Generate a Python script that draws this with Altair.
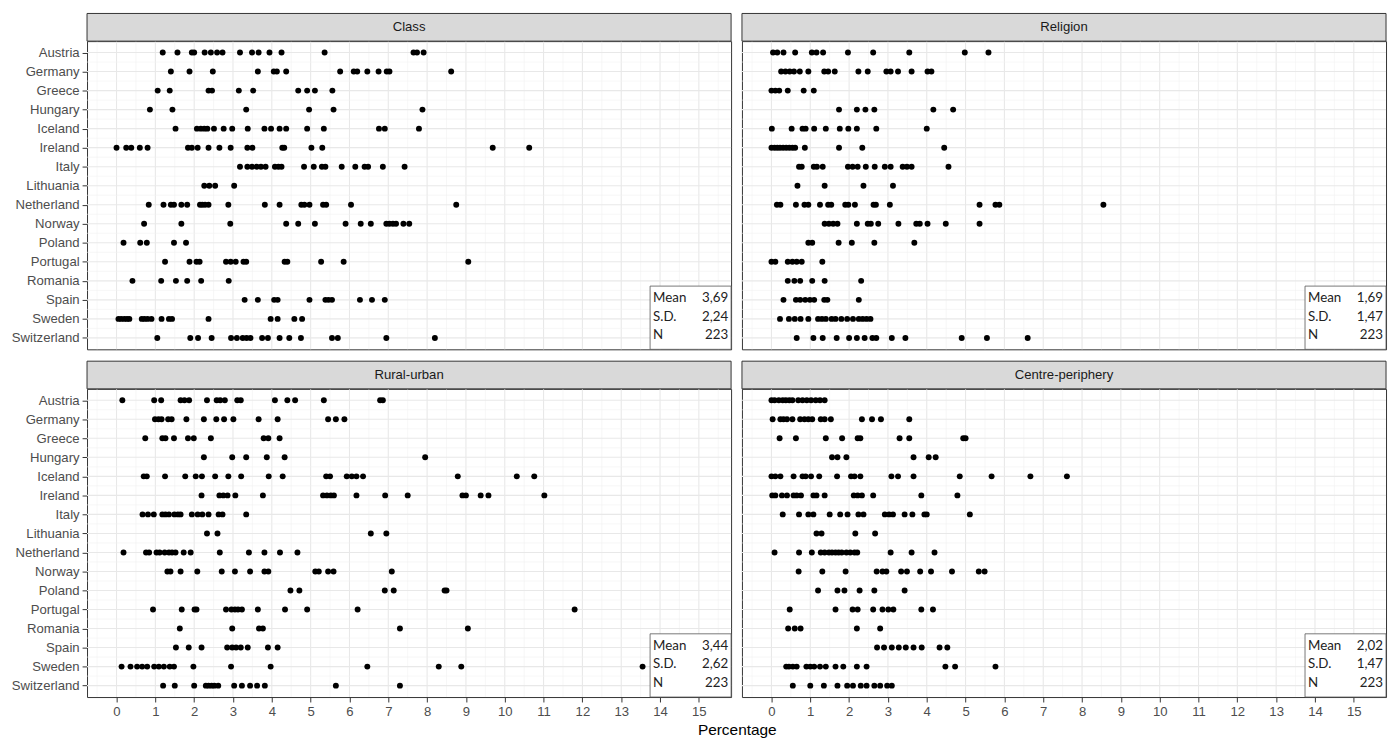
import altair as alt
import pandas as pd

COUNTRIES = ["Austria", "Germany", "Greece", "Hungary", "Iceland", "Ireland", "Italy",
             "Lithuania", "Netherland", "Norway", "Poland", "Portugal", "Romania",
             "Spain", "Sweden", "Switzerland"]

PANELS = ["Class", "Religion", "Rural-urban", "Centre-periphery"]

STAT_LABELS = ["Mean", "S.D.", "N"]
STAT_CLASS = ["3,69", "2,24", "223"]
STAT_RELIGION = ["1,69", "1,47", "223"]
STAT_RURAL = ["3,44", "2,62", "223"]
STAT_CENTRE = ["2,02", "1,47", "223"]

X_TICKS = list(range(16))
X_MINOR = [i + 0.5 for i in range(-1, 16)]
Y_MINOR = [i + 0.5 for i in range(15)]

CLASS = [
    [1.19, 1.57, 1.94, 2.00, 2.27, 2.43, 2.59, 2.73, 3.18, 3.49, 3.66, 3.94, 4.25, 5.36, 7.65, 7.74, 7.91],
    [1.40, 1.88, 2.48, 3.64, 4.05, 4.13, 4.37, 5.76, 6.11, 6.20, 6.46, 6.75, 6.96, 7.03, 8.62],
    [1.06, 1.37, 2.37, 2.46, 3.15, 3.52, 4.68, 4.91, 5.11, 5.56],
    [0.86, 1.44, 3.34, 4.96, 5.59, 7.88],
    [1.52, 2.07, 2.17, 2.26, 2.34, 2.51, 2.76, 2.98, 3.38, 3.81, 3.98, 4.20, 4.37, 4.91, 5.34, 6.76, 6.91, 7.79],
    [0.00, 0.25, 0.38, 0.60, 0.80, 1.84, 1.94, 2.09, 2.37, 2.65, 2.94, 3.37, 3.50, 4.27, 4.32, 5.02, 5.30, 9.69, 10.63],
    [3.18, 3.37, 3.49, 3.61, 3.72, 3.84, 4.08, 4.17, 4.25, 4.83, 5.08, 5.29, 5.38, 5.80, 6.15, 6.39, 6.48, 6.86, 7.42],
    [2.26, 2.39, 2.54, 3.03],
    [0.83, 1.21, 1.40, 1.48, 1.67, 1.82, 2.15, 2.21, 2.28, 2.37, 2.88, 3.82, 4.20, 4.76, 4.84, 4.97, 5.32, 5.40, 6.04, 8.75],
    [0.71, 1.67, 2.93, 4.37, 4.68, 5.11, 5.90, 6.29, 6.55, 6.95, 7.03, 7.12, 7.20, 7.39, 7.54],
    [0.18, 0.61, 0.78, 1.48, 1.79],
    [1.25, 1.88, 2.06, 2.14, 2.82, 2.94, 3.07, 3.27, 3.34, 4.33, 4.40, 5.27, 5.85, 9.06],
    [0.41, 1.15, 1.53, 1.82, 2.18, 2.89],
    [3.30, 3.64, 4.06, 4.15, 4.97, 5.38, 5.46, 5.55, 6.27, 6.58, 6.91],
    [0.05, 0.12, 0.20, 0.27, 0.33, 0.65, 0.72, 0.80, 0.90, 1.16, 1.35, 1.43, 2.37, 3.97, 4.15, 4.58, 4.78],
    [1.05, 1.90, 2.10, 2.45, 2.95, 3.10, 3.25, 3.35, 3.45, 3.75, 3.90, 4.20, 4.45, 4.75, 5.55, 5.70, 6.95, 8.20],
]

RELIGION = [
    [0.04, 0.15, 0.31, 0.61, 1.04, 1.16, 1.33, 1.97, 2.62, 3.55, 4.98, 5.59],
    [0.25, 0.36, 0.47, 0.58, 0.73, 0.95, 1.36, 1.46, 1.63, 2.24, 2.48, 2.96, 3.07, 3.26, 3.61, 4.02, 4.12],
    [0.00, 0.10, 0.20, 0.42, 0.83, 1.09],
    [1.74, 2.20, 2.42, 2.65, 4.17, 4.68],
    [0.01, 0.52, 0.80, 0.88, 1.10, 1.40, 1.76, 1.98, 2.20, 2.70, 4.00],
    [0.00, 0.08, 0.15, 0.22, 0.30, 0.38, 0.46, 0.54, 0.61, 0.86, 1.74, 2.34, 4.45],
    [0.71, 0.78, 1.09, 1.17, 1.32, 1.97, 2.09, 2.22, 2.43, 2.66, 2.92, 3.07, 3.38, 3.49, 3.61, 4.56],
    [0.67, 1.37, 2.37, 3.13],
    [0.14, 0.23, 0.63, 0.85, 0.95, 1.25, 1.46, 1.54, 1.90, 1.98, 2.15, 2.63, 2.69, 3.05, 5.36, 5.77, 5.87, 8.55],
    [1.37, 1.48, 1.59, 1.70, 2.20, 2.48, 2.56, 2.75, 3.27, 3.73, 3.82, 4.02, 4.49, 5.36],
    [0.95, 1.05, 1.73, 2.07, 2.65, 3.68],
    [0.00, 0.10, 0.42, 0.54, 0.65, 0.78, 1.31],
    [0.42, 0.59, 0.74, 1.05, 1.37, 2.31],
    [0.31, 0.63, 0.74, 0.87, 0.99, 1.10, 1.36, 1.44, 2.25],
    [0.22, 0.45, 0.60, 0.75, 0.95, 1.20, 1.30, 1.40, 1.55, 1.65, 1.80, 1.95, 2.10, 2.25, 2.35, 2.45, 2.55],
    [0.65, 1.08, 1.32, 1.68, 2.00, 2.20, 2.40, 2.60, 2.70, 3.10, 3.45, 4.90, 5.55, 6.60],
]

RURAL = [
    [0.15, 0.97, 1.15, 1.65, 1.75, 1.87, 2.33, 2.58, 2.67, 2.79, 3.11, 3.20, 4.08, 4.40, 4.60, 5.34, 6.79, 6.86],
    [0.99, 1.08, 1.16, 1.33, 1.42, 1.80, 2.25, 2.57, 2.77, 3.01, 3.66, 4.15, 5.45, 5.65, 5.87],
    [0.74, 1.18, 1.26, 1.48, 1.84, 1.99, 2.43, 3.79, 3.91, 4.20],
    [2.25, 2.98, 3.34, 3.87, 4.33, 7.95],
    [0.70, 0.78, 1.25, 1.77, 2.04, 2.20, 2.54, 2.88, 3.21, 3.92, 4.28, 5.40, 5.50, 5.93, 6.06, 6.18, 6.35, 8.79, 10.31, 10.76],
    [2.19, 2.65, 2.75, 2.86, 3.06, 3.77, 5.32, 5.42, 5.52, 5.60, 6.18, 6.92, 7.50, 8.91, 9.00, 9.38, 9.58, 11.02],
    [0.67, 0.81, 0.96, 1.18, 1.26, 1.35, 1.49, 1.58, 1.65, 1.94, 2.09, 2.21, 2.37, 2.63, 2.73, 3.34],
    [2.33, 2.60, 6.55, 6.95],
    [0.18, 0.76, 0.84, 1.03, 1.11, 1.24, 1.35, 1.43, 1.52, 1.73, 1.91, 2.66, 3.41, 3.81, 4.21, 4.66],
    [1.31, 1.39, 1.65, 2.08, 2.71, 3.05, 3.44, 3.81, 3.91, 5.12, 5.21, 5.45, 5.59, 7.09],
    [4.48, 4.71, 6.91, 7.14, 8.45, 8.50],
    [0.94, 1.68, 2.01, 2.06, 2.82, 2.96, 3.05, 3.13, 3.23, 3.64, 4.34, 4.91, 6.21, 11.80],
    [1.63, 2.98, 3.67, 3.77, 7.30, 9.05],
    [1.53, 1.86, 2.19, 2.85, 2.98, 3.08, 3.20, 3.38, 3.90, 4.15],
    [0.13, 0.36, 0.53, 0.66, 0.79, 0.97, 1.09, 1.22, 1.37, 1.48, 1.98, 2.95, 3.97, 6.46, 8.30, 8.88, 13.55],
    [1.20, 1.50, 2.00, 2.30, 2.37, 2.45, 2.52, 2.62, 3.03, 3.23, 3.44, 3.62, 3.82, 5.65, 7.30],
]

CENTRE = [
    [0.00, 0.08, 0.19, 0.29, 0.37, 0.46, 0.54, 0.69, 0.80, 0.91, 1.02, 1.14, 1.25, 1.37],
    [0.03, 0.23, 0.31, 0.40, 0.54, 0.74, 0.85, 0.95, 1.05, 1.27, 1.37, 1.53, 2.33, 2.59, 2.82, 3.55],
    [0.21, 0.63, 1.40, 1.82, 2.22, 2.29, 3.30, 3.55, 4.94, 5.00],
    [1.56, 1.70, 1.93, 3.66, 4.05, 4.23],
    [0.00, 0.10, 0.23, 0.57, 0.80, 0.88, 1.02, 1.23, 1.69, 2.05, 2.14, 2.29, 3.09, 3.26, 3.66, 4.85, 5.67, 6.67, 7.61],
    [0.02, 0.10, 0.27, 0.40, 0.57, 0.65, 0.76, 1.08, 1.16, 1.37, 2.12, 2.22, 2.33, 2.62, 3.86, 4.79],
    [0.29, 0.71, 0.95, 1.08, 1.50, 1.77, 1.96, 2.24, 2.37, 2.92, 3.03, 3.13, 3.43, 3.63, 3.94, 4.00, 5.11],
    [1.16, 1.29, 2.16, 2.67],
    [0.08, 0.71, 1.04, 1.27, 1.37, 1.48, 1.56, 1.65, 1.73, 1.81, 1.93, 2.03, 2.14, 2.21, 3.07, 3.61, 4.20],
    [0.70, 1.31, 1.91, 2.71, 2.86, 2.96, 3.34, 3.49, 3.83, 4.11, 4.65, 5.34, 5.49],
    [1.20, 1.70, 1.88, 2.27, 2.65, 3.43],
    [0.47, 1.65, 2.09, 2.22, 2.62, 2.86, 3.01, 3.14, 3.86, 4.16],
    [0.43, 0.60, 0.75, 2.20, 2.80],
    [2.72, 2.90, 3.10, 3.28, 3.46, 3.66, 3.87, 4.33, 4.53],
    [0.38, 0.45, 0.55, 0.65, 0.90, 1.00, 1.10, 1.25, 1.40, 1.65, 1.85, 2.20, 2.45, 4.48, 4.73, 5.77],
    [0.55, 1.00, 1.35, 1.70, 1.95, 2.10, 2.30, 2.45, 2.65, 2.80, 2.98, 3.10],
]

# ---- layout constants ----
W = 652
H = 312
STRIP = 28
X_DOMAIN = [-0.76, 15.83]
Y_DOMAIN = [-0.6, 15.6]
AXIS_FONT = "Liberation Sans"
STAT_FONT = "Lato"

LABEL_EXPR = "[" + ",".join("'" + c + "'" for c in COUNTRIES) + "][datum.value]"


def make_panel(name, values, stats, left, bottom):
    rows = [(i, v) for i, vals in enumerate(values) for v in vals]
    pts = pd.DataFrame(rows, columns=["idx", "value"])
    xs = alt.Scale(domain=X_DOMAIN, nice=False, zero=False)
    ys = alt.Scale(domain=Y_DOMAIN, reverse=True, nice=False, zero=False)

    if bottom:
        xaxis = alt.Axis(values=X_TICKS, format="d", grid=False, domain=False,
                         tickSize=5, tickColor="#333333", tickWidth=1,
                         labelFont=AXIS_FONT, labelFontSize=13.3, labelColor="#4D4D4D",
                         labelPadding=3, labelFlush=False, title=None)
    else:
        xaxis = None
    if left:
        yaxis = alt.Axis(values=list(range(len(COUNTRIES))), labelExpr=LABEL_EXPR,
                         grid=False, domain=False, tickSize=5, tickColor="#333333",
                         tickWidth=1, labelFont=AXIS_FONT, labelFontSize=13.3,
                         labelColor="#4D4D4D", labelPadding=3, labelOverlap=False,
                         labelFlush=False, minExtent=79, maxExtent=79, title=None)
    else:
        yaxis = None

    def X():
        return alt.X("value:Q", scale=xs, axis=xaxis, title=None)

    def Y():
        return alt.Y("idx:Q", scale=ys, axis=yaxis, title=None)

    x_minor = alt.Chart(pd.DataFrame({"value": X_MINOR})).mark_rule(
        color="#F2F2F2", strokeWidth=0.6).encode(x=X())
    x_major = alt.Chart(pd.DataFrame({"value": X_TICKS})).mark_rule(
        color="#E8E8E8", strokeWidth=1.1).encode(x=X())
    y_minor = alt.Chart(pd.DataFrame({"idx": Y_MINOR})).mark_rule(
        color="#F2F2F2", strokeWidth=0.6).encode(y=Y())
    y_major = alt.Chart(pd.DataFrame({"idx": list(range(len(COUNTRIES)))})).mark_rule(
        color="#E8E8E8", strokeWidth=1.1).encode(y=Y())

    points = alt.Chart(pts).mark_circle(size=36, color="black", opacity=1).encode(
        x=X(), y=Y())

    one = pd.DataFrame({"a": [0]})
    box = alt.Chart(one).mark_rect(fill="white", stroke="#555555", strokeWidth=0.8).encode(
        x=alt.value(W - 82), x2=alt.value(W), y=alt.value(H - 64), y2=alt.value(H))

    stat_layers = []
    offsets = [52, 33, 14]
    for lab, val, off in zip(STAT_LABELS, stats, offsets):
        d = pd.DataFrame({"lab": [lab], "val": [val]})
        stat_layers.append(alt.Chart(d).mark_text(
            align="left", baseline="middle", font=STAT_FONT, fontSize=13.5,
            color="#222222").encode(text="lab:N", x=alt.value(W - 79), y=alt.value(H - off)))
        stat_layers.append(alt.Chart(d).mark_text(
            align="right", baseline="middle", font=STAT_FONT, fontSize=13.5,
            color="#222222").encode(text="val:N", x=alt.value(W - 3), y=alt.value(H - off)))

    strip = alt.Chart(one).mark_rect(fill="#D9D9D9", stroke="#333333", strokeWidth=1).encode(
        x=alt.value(0), x2=alt.value(W), y=alt.value(-STRIP), y2=alt.value(0))
    strip_text = alt.Chart(pd.DataFrame({"t": [name]})).mark_text(
        align="center", baseline="middle", font=AXIS_FONT, fontSize=13.3,
        color="#1A1A1A").encode(text="t:N", x=alt.value(W / 2), y=alt.value(-STRIP / 2))

    return alt.layer(x_minor, x_major, y_minor, y_major, points, box, *stat_layers,
                     strip, strip_text).properties(width=W, height=H)


p1 = make_panel(PANELS[0], CLASS, STAT_CLASS, True, False)
p2 = make_panel(PANELS[1], RELIGION, STAT_RELIGION, False, False)
p3 = make_panel(PANELS[2], RURAL, STAT_RURAL, True, True)
p4 = make_panel(PANELS[3], CENTRE, STAT_CENTRE, False, True)

chart = alt.vconcat(
    alt.hconcat(p1, p2, spacing=7),
    alt.hconcat(p3, p4, spacing=7),
    spacing=9,
    title=alt.TitleParams(text="Percentage", orient="bottom", anchor="middle", dx=40,
                          offset=5, font=AXIS_FONT, fontSize=15.6, fontWeight="normal",
                          color="#000000"),
).configure_view(stroke="#333333", strokeWidth=1).properties(
    padding={"left": 0, "right": 0, "top": 0, "bottom": 0}, background="white")

chart.save("out.html", embed_options={"renderer": "svg", "actions": False})
